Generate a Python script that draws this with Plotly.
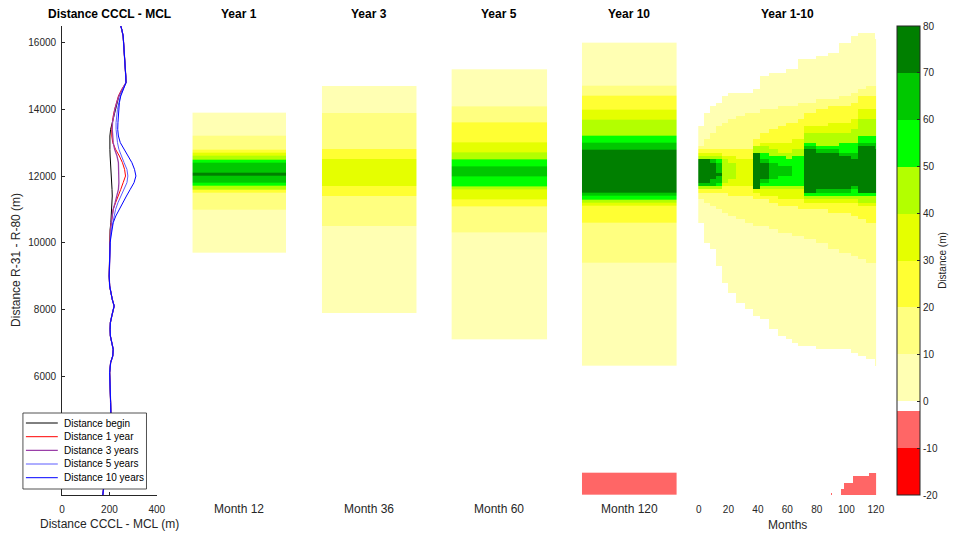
import numpy as np
import plotly.graph_objects as go

W, H = 967, 536

# ---- left panel: distance CCCL - MCL along the reach (m) ----
# lower reach, all curves on top of each other
Y_LOW = [2430, 2600, 3000, 3500, 4000, 4500, 4900, 5200, 5500, 5800, 6100, 6400, 6600, 6800,
         7000, 7200, 7400, 7600, 7800, 8000, 8100, 8300, 8500, 8700, 9000, 9300, 9600, 9800]
X_LOW = [172, 175, 182, 190, 198, 203, 206, 205, 203, 200, 201, 205, 214, 216,
         210, 204, 203, 204, 210, 218, 220, 212, 205, 201, 199, 200, 200, 201]
# middle reach, where the curves separate
Y_MID = [10000, 10200, 10400, 10600, 10800, 11000, 11200, 11400, 11600, 11800, 12000, 12200,
         12400, 12600, 12800, 13000, 13200, 13400, 13600, 13800, 14000, 14200, 14400, 14600]
X_BEGIN = [200, 201, 203, 206, 208, 210, 211, 212, 211, 209, 207, 205,
           204, 203, 202, 201, 202, 205, 212, 218, 225, 232, 240, 255]
X_1Y = [200, 202, 204, 208, 212, 216, 226, 238, 248, 258, 268, 264,
        255, 242, 226, 214, 210, 210, 212, 216, 222, 230, 238, 252]
X_3Y = [201, 203, 205, 208, 212, 216, 224, 232, 238, 240, 240, 240,
        238, 232, 222, 216, 213, 212, 213, 217, 223, 231, 240, 254]
X_5Y = [202, 205, 209, 214, 220, 226, 236, 248, 262, 274, 278, 274,
        262, 250, 240, 234, 230, 228, 228, 230, 234, 240, 246, 258]
X_10Y = [203, 207, 212, 216, 227, 241, 258, 272, 288, 304, 312, 306,
         295, 278, 260, 246, 238, 235, 236, 238, 240, 242, 248, 258]
# upper reach, curves together again
Y_TOP = [14800, 15000, 15200, 15400, 15600, 15800, 16000, 16200, 16400, 16500]
X_TOP = [270, 269, 267, 265, 264, 263, 260, 258, 252, 248]

CURVES = [("Distance begin", X_BEGIN, "#000000", 1.0),
          ("Distance 1 year", X_1Y, "#ff0000", 1.0),
          ("Distance 3 years", X_3Y, "#9a3fa8", 1.3),
          ("Distance 5 years", X_5Y, "#5c5cff", 1.0),
          ("Distance 10 years", X_10Y, "#0000ff", 1.0)]

# ---- single-month snapshots: band edges (m) and band values (m) ----
YEAR1_EDGES = [9700, 11000, 11500, 11600, 11700, 11800, 12000, 12100, 12400, 12500, 12600,
               12700, 12800, 13200, 13900]
YEAR1_VALUES = [5, 15, 25, 45, 55, 65, 75, 65, 55, 45, 35, 25, 15, 5]
YEAR3_EDGES = [7900, 10500, 11400, 11700, 12500, 12800, 13900, 14700]
YEAR3_VALUES = [5, 15, 25, 35, 25, 15, 5]
YEAR5_EDGES = [7100, 10300, 11100, 11300, 11600, 11700, 12000, 12300, 12500, 12700, 13000,
               13600, 14100, 15200]
YEAR5_VALUES = [5, 15, 25, 35, 45, 55, 65, 55, 45, 35, 25, 15, 5]
YEAR10_EDGES = [2430, 3100, 6300, 9400, 10600, 11100, 11200, 11300, 11400, 11500, 12800,
                13000, 13200, 13700, 14000, 14400, 14700, 16000]
YEAR10_VALUES = [-5, None, 5, 15, 25, 35, 45, 55, 65, 75, 65, 55, 45, 35, 25, 15, 5]

# ---- year 1-10: extent (bottom/top, m) of each distance class, read at these months ----
SAMPLE_MONTHS = [0, 4, 8, 12, 16, 20, 26, 32, 37, 42, 48, 54, 60, 64, 68, 72, 80, 88, 96,
                 104, 109, 114, 120]
L0_TOP = [13500, 13900, 14100, 14200, 14400, 14500, 14500, 14500, 14600, 15000, 15100, 15100,
          15200, 15200, 15500, 15500, 15600, 15700, 16000, 16200, 16300, 16300, 16100]
L0_BOT = [10600, 10000, 9800, 9300, 8800, 8500, 8200, 8000, 7800, 7700, 7400, 7200,
          7100, 7000, 6950, 6900, 6850, 6850, 6800, 6750, 6650, 6500, 6300]
L10_TOP = [12900, 13100, 13300, 13500, 13600, 13700, 13800, 13900, 13900, 14000, 14000, 14100,
           14100, 14100, 14200, 14200, 14300, 14300, 14400, 14500, 14600, 14700, 14700]
L10_BOT = [11300, 11200, 11100, 11000, 10900, 10800, 10700, 10600, 10500, 10500, 10400, 10300,
           10300, 10200, 10200, 10100, 10000, 9800, 9700, 9600, 9500, 9400, 9400]
L20_TOP = [12800, 12800, 12800, 12800, 12800, 12800, 12800, 12800, 13100, 13300, 13400, 13500,
           13600, 13600, 13700, 13900, 14000, 14100, 14100, 14200, 14400, 14400, 14400]
L20_BOT = [11500, 11500, 11500, 11500, 11500, 11400, 11400, 11400, 11300, 11300, 11200, 11100,
           11100, 11100, 11000, 11000, 11000, 10900, 10900, 10800, 10700, 10600, 10600]
L30_TOP = [12700, 12700, 12700, 12700, 12600, 12600, 12500, 12500, 12900, 13000, 13000, 13000,
           13000, 13100, 13100, 13500, 13500, 13600, 13600, 13700, 14000, 14000, 14000]
L30_BOT = [11600, 11600, 11600, 11600, 11700, 11700, 11700, 11700, 11500, 11400, 11400, 11300,
           11300, 11300, 11300, 11200, 11200, 11200, 11200, 11200, 11100, 11100, 11100]
L40_TOP = [12600, 12600, 12600, 12600, 12500, 12400, None, None, 12900, 12900, 12800, 12700,
           12700, 12800, 12800, 13300, 13300, 13300, 13300, 13400, 13700, 13700, 13700]
L40_BOT = [11600, 11600, 11600, 11600, 11800, 11900, None, None, 11600, 11600, 11600, 11600,
           11600, 11600, 11600, 11300, 11300, 11300, 11300, 11300, 11200, 11200, 11200]
L50_TOP = [12500, 12500, 12500, 12500, None, None, None, None, 12700, 12700, 12600, 12600,
           12500, 12600, 12600, 13000, 12900, 12900, 13000, 13000, 13200, 13200, 13200]
L50_BOT = [11700, 11700, 11700, 11700, None, None, None, None, 11700, 11700, 11700, 11700,
           11700, 11700, 11700, 11400, 11400, 11400, 11400, 11400, 11400, 11400, 11400]
L60_TOP = [12500, 12500, 12500, 12400, None, None, None, None, 12600, 12500, 12400, 12300,
           12300, None, None, 12900, 12800, 12800, 12700, 12700, 13000, 13000, 13000]
L60_BOT = [11700, 11700, 11700, 11800, None, None, None, None, 11700, 11800, 11900, 12000,
           12000, None, None, 11500, 11500, 11500, 11500, 11600, 11500, 11500, 11500]
L70_TOP = [12500, 12500, 12400, 12100, None, None, None, None, 12700, 12400, None, None,
           None, None, None, 12800, 12700, 12700, 12600, 12500, 12900, 12900, 12800]
L70_BOT = [11800, 11800, 11900, 12000, None, None, None, None, 11600, 11900, None, None,
           None, None, None, 11500, 11600, 11600, 11600, 11700, 11500, 11500, 11500]
# erosion (negative) patch at the downstream end
RED_START = [90, 97, 99, 105, 116]
RED_END = [90, 98, 104, 115, 120]
RED_TOP = [2500, 2600, 2800, 3000, 3100]

CBAR_TICKS = [-20, -10, 0, 10, 20, 30, 40, 50, 60, 70, 80]

LEVELS = [(5, L0_BOT, L0_TOP), (15, L10_BOT, L10_TOP), (25, L20_BOT, L20_TOP),
          (35, L30_BOT, L30_TOP), (45, L40_BOT, L40_TOP), (55, L50_BOT, L50_TOP),
          (65, L60_BOT, L60_TOP), (75, L70_BOT, L70_TOP)]

months = np.arange(0, 121)
y_edges = np.arange(2400, 16600, 100)
y_mid = y_edges[:-1] + 50
z_all = np.full((len(y_mid), len(months)), np.nan)
for j, m in enumerate(months):
    k = np.searchsorted(SAMPLE_MONTHS, m, side="right") - 1
    for val, lo, hi in LEVELS:
        if lo[k] is None:
            continue
        z_all[(y_mid >= lo[k]) & (y_mid < hi[k]), j] = val
for s, e, top in zip(RED_START, RED_END, RED_TOP):
    z_all[np.ix_(y_mid < top, (months >= s) & (months <= e))] = -5

# ---- discrete colour map ----
BOUNDS = [-20, -10, -2, 0, 10, 20, 30, 40, 50, 60, 70, 80]
COLORS = ["#ff0000", "#ff6666", "#ffffff", "#ffffb3", "#ffff80", "#ffff33",
          "#e5ff00", "#b3ff00", "#00ff00", "#00c800", "#007f00"]
cscale = []
for i, c in enumerate(COLORS):
    cscale.append([(BOUNDS[i] + 20) / 100, c])
    cscale.append([(BOUNDS[i + 1] + 20) / 100, c])

# the snapshot came out ~1% narrower than the page, so stretch x placements a little
KX = 1.009


def fx(px):
    return px * KX / W


def fy(py):
    return 1 - py / H


YR = [2430, 16500]
YDOM = [fy(495), fy(26)]
FONT = "Liberation Sans, Arial, sans-serif"
AX = "#262626"

fig = go.Figure()

for name, xs, color, width in CURVES:
    fig.add_trace(go.Scatter(x=X_LOW + xs + X_TOP, y=Y_LOW + Y_MID + Y_TOP, mode="lines",
                             name=name, line=dict(color=color, width=width),
                             showlegend=False, xaxis="x", yaxis="y"))

panels = [(YEAR1_EDGES, YEAR1_VALUES), (YEAR3_EDGES, YEAR3_VALUES),
          (YEAR5_EDGES, YEAR5_VALUES), (YEAR10_EDGES, YEAR10_VALUES)]
for i, (edges, vals) in enumerate(panels):
    n = i + 2
    fig.add_trace(go.Heatmap(x=[0, 1], y=edges,
                             z=[[np.nan if v is None else v] for v in vals],
                             coloraxis="coloraxis", showlegend=False, hoverinfo="skip",
                             xaxis=f"x{n}", yaxis=f"y{n}"))

fig.add_trace(go.Heatmap(x=months, y=y_edges, z=z_all, coloraxis="coloraxis",
                         showlegend=False, hoverinfo="skip", xaxis="x6", yaxis="y6"))

lay = dict(
    width=W, height=H, autosize=False,
    margin=dict(l=0, r=0, t=0, b=0),
    paper_bgcolor="white", plot_bgcolor="white",
    font=dict(family=FONT, color=AX, size=10),
    xaxis=dict(domain=[fx(59.3), fx(154.3)], range=[0, 400], tickvals=[0, 200, 400],
               showline=True, linecolor=AX, linewidth=1, ticks="inside", ticklen=3,
               tickcolor=AX, showgrid=False, zeroline=False, anchor="y",
               ticklabelstandoff=5, tickfont=dict(size=10, color=AX)),
    yaxis=dict(domain=YDOM, range=YR, tickvals=list(range(6000, 16001, 2000)),
               tickformat="d", showline=True, linecolor=AX, linewidth=1, ticks="inside",
               ticklen=3, tickcolor=AX, showgrid=False, zeroline=False, anchor="x",
               ticklabelstandoff=3, tickfont=dict(size=10, color=AX)),
    coloraxis=dict(
        colorscale=cscale, cmin=-20, cmax=80,
        colorbar=dict(x=fx(897), xanchor="left", xpad=0, ypad=0,
                      thickness=23, thicknessmode="pixels",
                      len=(495 - 26) / H, lenmode="fraction",
                      y=fy(260.5), yanchor="middle",
                      tickvals=CBAR_TICKS, ticktext=[str(t) for t in CBAR_TICKS],
                      ticks="inside", ticklen=3,
                      tickcolor=AX, outlinewidth=1, outlinecolor=AX,
                      tickfont=dict(size=10, color=AX),
                      title=dict(text="Distance (m)", side="right",
                                 font=dict(size=10, color=AX)))),
)

px_doms = [(190, 284), (320, 415), (450, 546), (581, 676)]
for i, (a, b) in enumerate(px_doms):
    n = i + 2
    lay[f"xaxis{n}"] = dict(domain=[fx(a), fx(b)], range=[0, 1], visible=False, anchor=f"y{n}")
    lay[f"yaxis{n}"] = dict(domain=YDOM, range=YR, visible=False, anchor=f"x{n}")
lay["xaxis6"] = dict(domain=[fx(697.6), fx(876.7)], range=[-0.5, 120.5],
                     tickvals=list(range(0, 121, 20)), showline=False, ticks="",
                     showgrid=False, zeroline=False, anchor="y6", ticklabelstandoff=7,
                     tickfont=dict(size=10, color=AX))
lay["yaxis6"] = dict(domain=YDOM, range=YR, visible=False, anchor="x6")

fig.update_layout(**lay)

# legend box drawn by hand (plotly's own rows are too tall for this box)
shapes = [dict(type="rect", xref="paper", yref="paper", x0=fx(20), x1=fx(144),
               y0=fy(489), y1=fy(413), line=dict(color=AX, width=0.8), fillcolor="white")]
ann = []
row_y = [423, 436.7, 450.3, 464, 477.7]
for (name, _, color, width), ry in zip(CURVES, row_y):
    shapes.append(dict(type="line", xref="paper", yref="paper", x0=fx(23), x1=fx(55),
                       y0=fy(ry), y1=fy(ry), line=dict(color=color, width=width)))
    ann.append(dict(text=name, x=fx(59), y=fy(ry), xanchor="left",
                    font=dict(size=10, color="#000000")))

titles = [("Distance CCCL - MCL", 106.8), ("Year 1", 237), ("Year 3", 367.5),
          ("Year 5", 498), ("Year 10", 628.5), ("Year 1-10", 787)]
for t, x in titles:
    ann.append(dict(text=f"<b>{t}</b>", x=fx(x), y=fy(14), font=dict(size=12, color="#000000")))
labels = [("Month 12", 237), ("Month 36", 367.5), ("Month 60", 498), ("Month 120", 628.5)]
for t, x in labels:
    ann.append(dict(text=t, x=fx(x), y=fy(509), font=dict(size=12, color=AX)))
ann.append(dict(text="Months", x=fx(787), y=fy(525), font=dict(size=12, color=AX)))
ann.append(dict(text="Distance CCCL - MCL (m)", x=fx(106.8), y=fy(524),
                font=dict(size=12, color=AX)))
ann.append(dict(text="Distance R-31 - R-80 (m)", x=fx(13), y=fy(260), textangle=-90,
                font=dict(size=12, color=AX)))
for a in ann:
    a.setdefault("xanchor", "center")
    a.update(xref="paper", yref="paper", showarrow=False, yanchor="middle")
fig.update_layout(annotations=ann, shapes=shapes)

# the page's default 8px body margin (and any scrollbar) would move the fixed-size figure
fig.write_html("out.html", config={"displayModeBar": False},
               post_script="document.body.style.margin='0';"
                           "document.documentElement.style.overflow='hidden';"
                           "document.body.style.overflow='hidden';")
